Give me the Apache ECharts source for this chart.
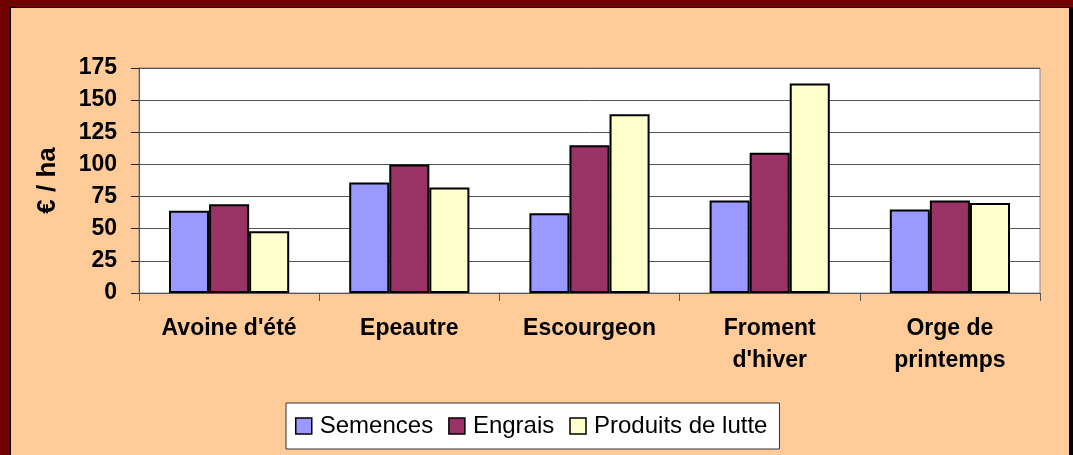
<!DOCTYPE html>
<html>
<head>
<meta charset="utf-8">
<script src="https://cdn.jsdelivr.net/npm/echarts@6/dist/echarts.min.js"></script>
<style>
  body { margin: 0; background: #6E0000; }
  #frame { position: absolute; left: 10px; top: 7px; width: 1063px; height: 448px; background: #000; }
  #panel { position: absolute; left: 11px; top: 8px; width: 1058px; height: 447px; background: #FFCC99; }
  #main { position: absolute; left: 0; top: 0; width: 1073px; height: 455px; }
</style>
</head>
<body>
<div id="frame"></div>
<div id="panel"></div>
<div id="main"></div>
<script>
// cultures
var categories = ["Avoine d'été", "Epeautre", "Escourgeon", "Froment\nd'hiver", "Orge de\nprintemps"];
// €/ha par poste
var semences = [64, 86, 62, 72, 65];
var engrais = [69, 100, 115, 109, 72];
var produitsLutte = [48, 82, 139, 163, 70];
var yTicks = [0, 25, 50, 75, 100, 125, 150, 175];

var font = "'Liberation Sans', Arial, sans-serif";
var chart = echarts.init(document.getElementById('main'));

function barSerie(name, data, color) {
  return {
    name: name,
    type: 'bar',
    data: data,
    barGap: '0%',
    barCategoryGap: '33.3%',
    itemStyle: { color: color, borderColor: '#000', borderWidth: 2 }
  };
}

var option = {
  animation: false,
  grid: {
    left: 139, top: 68, right: 33, bottom: 162,
    show: true,
    backgroundColor: '#fff',
    borderColor: '#888',
    borderWidth: 1,
    outerBoundsMode: 'none'
  },
  legend: {
    left: 286, top: 403,
    icon: 'rect',
    itemWidth: 16, itemHeight: 16, itemGap: 15,
    backgroundColor: '#fff',
    borderColor: '#333',
    borderWidth: 1,
    padding: [11, 12, 11, 9],
    itemStyle: { borderColor: '#000', borderWidth: 1.5 },
    textStyle: { fontFamily: font, fontSize: 24, color: '#000', padding: [0, 0, 0, 3] }
  },
  xAxis: {
    type: 'category',
    data: categories,
    axisLine: { lineStyle: { color: '#555', width: 1 } },
    axisTick: { show: true, length: 8, lineStyle: { color: '#555' } },
    axisLabel: {
      fontFamily: font, fontSize: 23, fontWeight: 'bold', color: '#000',
      lineHeight: 32, margin: 20, interval: 0
    }
  },
  yAxis: {
    type: 'value',
    min: yTicks[0],
    max: yTicks[yTicks.length - 1],
    interval: 25,
    name: '€ / ha',
    nameLocation: 'middle',
    nameRotate: 90,
    nameGap: 78,
    nameTextStyle: { fontFamily: font, fontSize: 26, fontWeight: 'bold', color: '#000' },
    axisLine: { show: true, lineStyle: { color: '#555', width: 1 } },
    axisTick: { show: true, length: 8, lineStyle: { color: '#222' } },
    axisLabel: { fontFamily: font, fontSize: 23, fontWeight: 'bold', color: '#000', margin: 22 },
    splitLine: { lineStyle: { color: '#555', width: 1 } }
  },
  series: [
    barSerie('Semences', semences, '#9999FF'),
    barSerie('Engrais', engrais, '#993366'),
    barSerie('Produits de lutte', produitsLutte, '#FFFFCC')
  ]
};

chart.setOption(option);
</script>
</body>
</html>
